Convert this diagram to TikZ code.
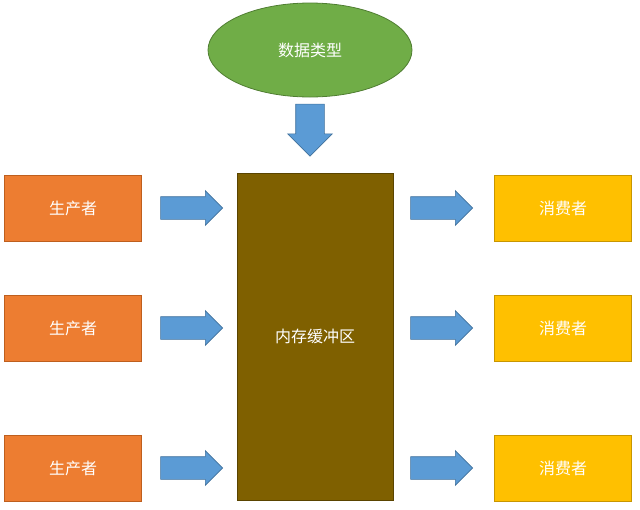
\documentclass[tikz,border=0pt]{standalone}
\usepackage{fontspec}
\newfontfamily\cjk{Noto Sans CJK SC}
\usetikzlibrary{shapes.geometric,shapes.arrows}
\begin{document}
\begin{tikzpicture}[x=1pt,y=-1pt,
  lbl/.style={font=\cjk\fontsize{16}{18}\selectfont, text=white},
  box/.style={draw, line width=0.8pt, minimum width=137pt, minimum height=66pt, lbl},
  prod/.style={box, fill={rgb,255:red,237;green,125;blue,49}, draw={rgb,255:red,190;green,95;blue,30}},
  cons/.style={box, fill={rgb,255:red,255;green,192;blue,0}, draw={rgb,255:red,200;green,150;blue,0}},
  barrow/.style={single arrow, fill={rgb,255:red,91;green,155;blue,213}, draw={rgb,255:red,65;green,113;blue,156}, line width=0.6pt, minimum height=62pt, minimum width=0pt, text height=0pt, text depth=0pt, text width=0pt, inner xsep=0pt, inner ysep=11pt, single arrow head extend=6pt, single arrow head indent=0pt}]
\useasboundingbox (0,0) rectangle (640,509);
\node[ellipse, draw={rgb,255:red,80;green,126;blue,50}, line width=0.8pt, fill={rgb,255:red,112;green,173;blue,71}, minimum width=204pt, minimum height=94pt, lbl] (dt) at (310,50) {数据类型};
\node[barrow, shape border rotate=270, minimum height=52pt, inner xsep=14pt, inner ysep=0pt, single arrow head extend=8pt] (da) at (310,123) {};
\node[draw={rgb,255:red,90;green,68;blue,0}, line width=0.8pt, fill={rgb,255:red,127;green,96;blue,0}, minimum width=156pt, minimum height=327pt, lbl] (buf) at (315,336.5) {内存缓冲区};
\foreach \y/\i in {208/1,328/2,468/3}{
  \node[prod] (p\i) at (73,\y) {生产者};
  \node[cons] (c\i) at (563,\y) {消费者};
  \node[barrow] (a\i) at (186,\y) {};
  \node[barrow] (b\i) at (436,\y) {};
}
\end{tikzpicture}
\end{document}
